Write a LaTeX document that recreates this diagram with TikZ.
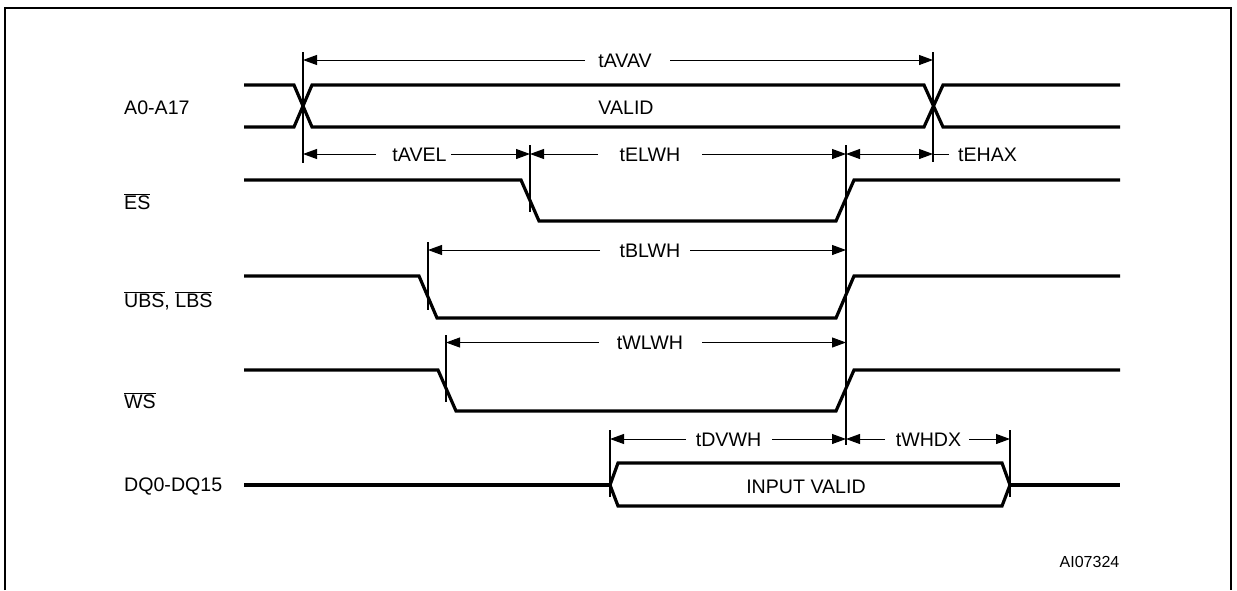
\documentclass[tikz,border=0pt]{standalone}
\usepackage{fontspec}
\setmainfont{Liberation Sans}
\usetikzlibrary{arrows.meta}
\newcommand\ovl[1]{$\overline{\mbox{#1}}$}
\begin{document}
\begin{tikzpicture}[x=1pt,y=-1pt,
  sig/.style={line width=3.2pt},
  dimline/.style={line width=1pt},
  vmark/.style={line width=1.1pt},
  tipend/.style={-{Triangle[length=14pt,width=10pt]}},
  frame/.style={line width=2.2pt},
  sname/.style={font=\fontsize{19.6}{23}\selectfont, inner sep=0pt, anchor=base west},
  dlab/.style={font=\fontsize{19.6}{23}\selectfont, inner xsep=0pt, inner ysep=0pt, text height=14pt, text depth=0pt},
  btext/.style={font=\fontsize{19.6}{23}\selectfont, inner sep=0pt, anchor=base},
  refid/.style={font=\fontsize{16}{19}\selectfont, inner sep=0pt, anchor=base},
]
\useasboundingbox (0,0) rectangle (1237,590);

% frame
\draw[frame] (5,590) -- (5,8) -- (1231,8) -- (1231,590);

% signal names
\node[sname] (nA)  at (124,114.5) {A0-A17};
\node[sname] (nES) at (124,209) {\ovl{ES}};
\node[sname] (nUB) at (124,307) {\ovl{UBS}, \ovl{LBS}};
\node[sname] (nWS) at (124,408) {\ovl{WS}};
\node[sname] (nDQ) at (124,491) {DQ0-DQ15};

% waveforms
\draw[sig] (244,85) -- (294,85) -- (312,127) -- (924,127) -- (943,85) -- (1120,85);
\draw[sig] (244,127) -- (294,127) -- (312,85) -- (924,85) -- (943,127) -- (1120,127);
\node[btext] (valid) at (626,114.5) {VALID};

\draw[sig] (244,180) -- (521,180) -- (539,221) -- (836,221) -- (854,180) -- (1120,180);
\draw[sig] (244,276) -- (419,276) -- (437,318) -- (836,318) -- (854,276) -- (1120,276);
\draw[sig] (244,370) -- (438,370) -- (456,411) -- (836,411) -- (854,370) -- (1120,370);

\draw[sig] (244,485) -- (610,485);
\draw[sig] (610,485) -- (618,463) -- (1002,463) -- (1010,485) -- (1002,506) -- (618,506) -- cycle;
\draw[sig] (1010,485) -- (1120,485);
\node[btext] (inval) at (806,493.5) {INPUT VALID};

% timing reference marks
\draw[vmark] (303,52) -- (303,163);
\draw[vmark] (933,52) -- (933,162);
\draw[vmark] (530,145) -- (530,212);
\draw[vmark] (846,145) -- (846,445);
\draw[vmark] (428,242) -- (428,310);
\draw[vmark] (446,335) -- (446,402);
\draw[vmark] (610,430) -- (610,497);
\draw[vmark] (1010,430) -- (1010,497);

% tip coordinates
\coordinate (avL) at (303,60);   \coordinate (avR) at (933,60);
\coordinate (aeL) at (303,154);  \coordinate (aeR) at (530,154);
\coordinate (elL) at (530,154);  \coordinate (elR) at (846,154);
\coordinate (ehL) at (846,154);  \coordinate (ehR) at (933,154);
\coordinate (ehT) at (949,154);
\coordinate (blL) at (428,250);  \coordinate (blR) at (846,250);
\coordinate (wlL) at (446,342.5);\coordinate (wlR) at (846,342.5);
\coordinate (dvL) at (610,439);  \coordinate (dvR) at (846,439);
\coordinate (whL) at (846,439);  \coordinate (whR) at (1010,439);

% labels
\node[dlab] (tAVAV) at (625,60) {tAVAV};
\node[dlab] (tAVEL) at (419.5,154) {tAVEL};
\node[dlab] (tELWH) at (650,154) {tELWH};
\node[dlab,anchor=west] (tEHAX) at (958,154) {tEHAX};
\node[dlab] (tBLWH) at (650,250) {tBLWH};
\node[dlab] (tWLWH) at (650,342.5) {tWLWH};
\node[dlab] (tDVWH) at (728.5,439) {tDVWH};
\node[dlab] (tWHDX) at (928.5,439) {tWHDX};

% dimension arrows
\coordinate (g1a) at (585,60);   \coordinate (g1b) at (670,60);
\draw[dimline,tipend] (g1a) -- (avL);
\draw[dimline,tipend] (g1b) -- (avR);

\coordinate (g2a) at (376,154);  \coordinate (g2b) at (451,154);
\draw[dimline,tipend] (g2a) -- (aeL);
\draw[dimline,tipend] (g2b) -- (aeR);

\coordinate (g3a) at (598,154);  \coordinate (g3b) at (702,154);
\draw[dimline,tipend] (g3a) -- (elL);
\draw[dimline,tipend] (g3b) -- (elR);

\draw[dimline,{Triangle[length=14pt,width=10pt]}-{Triangle[length=14pt,width=10pt]}] (ehL) -- (ehR);
\draw[dimline] (ehR) -- (ehT);

\coordinate (g5a) at (600,250);  \coordinate (g5b) at (690,250);
\draw[dimline,tipend] (g5a) -- (blL);
\draw[dimline,tipend] (g5b) -- (blR);

\coordinate (g6a) at (599,342.5);\coordinate (g6b) at (702,342.5);
\draw[dimline,tipend] (g6a) -- (wlL);
\draw[dimline,tipend] (g6b) -- (wlR);

\coordinate (g7a) at (686,439);  \coordinate (g7b) at (772,439);
\draw[dimline,tipend] (g7a) -- (dvL);
\draw[dimline,tipend] (g7b) -- (dvR);

\coordinate (g8a) at (885,439);  \coordinate (g8b) at (969,439);
\draw[dimline,tipend] (g8a) -- (whL);
\draw[dimline,tipend] (g8b) -- (whR);

\node[refid] (aid) at (1089.5,567) {AI07324};
\end{tikzpicture}
\end{document}
